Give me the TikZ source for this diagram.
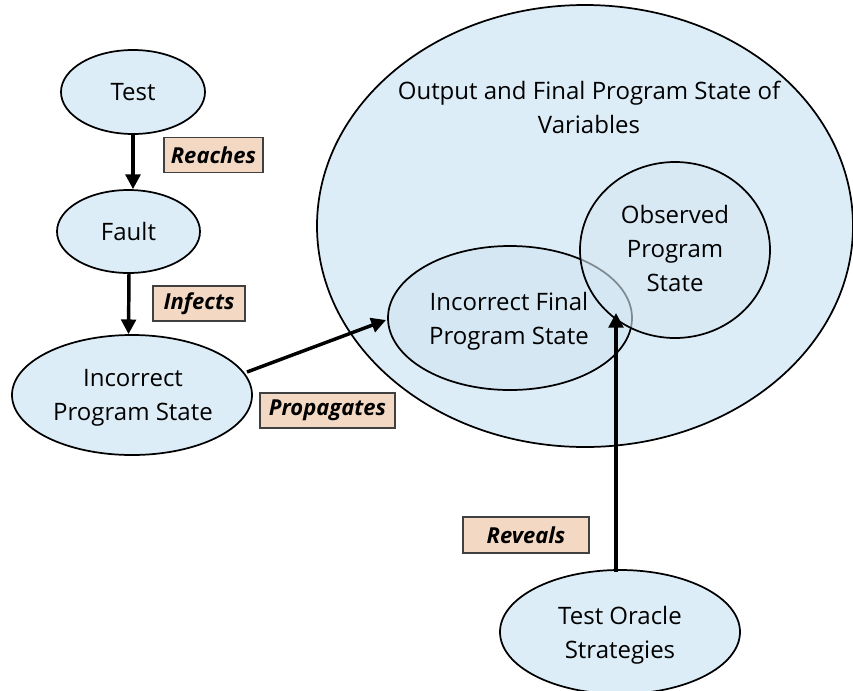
\documentclass[tikz,border=0pt]{standalone}
\usepackage{fontspec}
\setmainfont{Open Sans}
\usetikzlibrary{shapes.geometric,arrows.meta}
\definecolor{bubble}{HTML}{DDEDF7}
\definecolor{inner}{HTML}{D5E7F3}
\definecolor{tagfill}{HTML}{F3D9C4}
\definecolor{tagline}{HTML}{404040}
\tikzset{
  bub/.style={ellipse,draw=black,line width=1.3pt,fill=bubble,inner sep=0pt,align=center,font=\fontsize{18}{25.5}\selectfont},
  txt/.style={align=center,font=\fontsize{18}{25.5}\selectfont},
  tag/.style={draw=tagline,line width=0.9pt,fill=tagfill,inner sep=0pt,font=\fontsize{16.5}{18}\selectfont\bfseries\itshape},
  arr/.style={line width=2.6pt,-{Triangle[length=11pt,width=11pt]}}
}
\begin{document}
\begin{tikzpicture}[x=0.75pt,y=-0.75pt]
\useasboundingbox (0,0) rectangle (853,690);
% big ellipse
\node[bub,minimum width=536*0.75pt,minimum height=442*0.75pt] (out) at (585,226) {};
\node[txt] (outlbl) at (589,107) {Output and Final Program State of\\Variables};
% inner ellipses
\node[bub,fill=inner,minimum width=244*0.75pt,minimum height=144*0.75pt] (ifps) at (510,318) {};
\node[bub,fill=inner,fill opacity=0.6,text opacity=1,minimum width=190*0.75pt,minimum height=176*0.75pt] (obs) at (675,250) {};
\node[txt] (ifpslbl) at (509,321) {Incorrect Final\\Program State};
\node[txt] (obslbl) at (675,248) {Observed\\Program\\State};
% left column
\node[bub,minimum width=144*0.75pt,minimum height=84*0.75pt] (test) at (133,92) {Test};
\node[bub,minimum width=143*0.75pt,minimum height=83*0.75pt] (fault) at (128.5,231.5) {Fault};
\node[bub,minimum width=240*0.75pt,minimum height=120*0.75pt] (ips) at (132,395) {};
\node[txt] (ipslbl) at (133,398) {Incorrect\\Program State};
\node[bub,minimum width=240*0.75pt,minimum height=124*0.75pt] (oracle) at (620,632) {};
\node[txt] (oraclelbl) at (620,635) {Test Oracle\\Strategies};
% tags
\node[tag,minimum width=99*0.75pt,minimum height=35*0.75pt] (reach) at (213.5,155) {Reaches};
\node[tag,minimum width=92*0.75pt,minimum height=35*0.75pt] (infect) at (199,303.5) {Infects};
\node[tag,minimum width=135*0.75pt,minimum height=35*0.75pt] (prop) at (327.5,410.5) {Propagates};
\node[tag,minimum width=126*0.75pt,minimum height=36*0.75pt] (reveal) at (526,535) {Reveals};
% arrows
\coordinate (a1) at (133,134);
\coordinate (a2) at (129,273);
\coordinate (a3) at (247,372);
\coordinate (a4) at (386,320);
\coordinate (a5) at (616,572);
\coordinate (a6) at (616,313);
\draw[arr] (a1) -- (test.south |- fault.north);
\draw[arr] (a2) -- (fault.south |- ips.north);
\draw[arr] (a3) -- (a4);
\draw[arr] (a5) -- (a6);
\end{tikzpicture}
\end{document}
